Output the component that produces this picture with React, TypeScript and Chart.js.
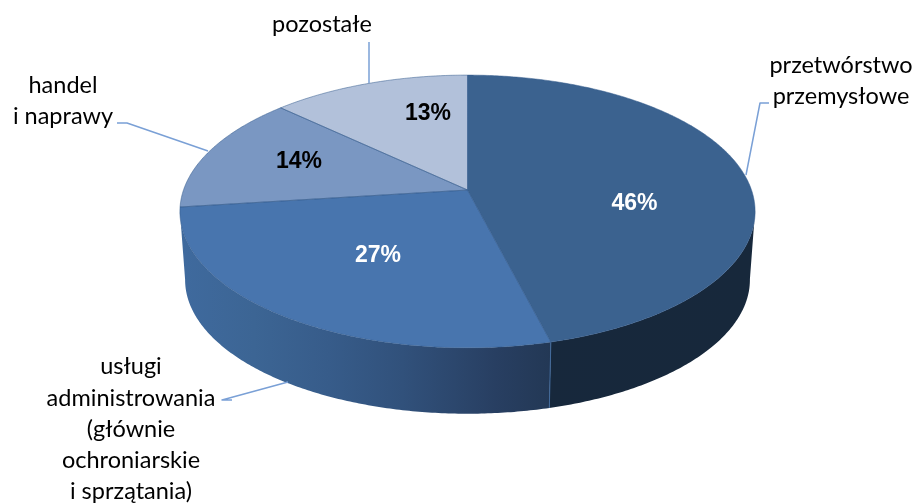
import React, { useEffect, useRef } from "react";
import { Chart, registerables } from "chart.js";

Chart.register(...registerables);

const categories = ["przetwórstwo przemysłowe", "usługi administrowania (głównie ochroniarskie i sprzątania)", "handel i naprawy", "pozostałe"];
const shares = [46, 27, 14, 13];

const topColors = ["#3b628f", "#4875ae", "#7a97c2", "#b2c1da"];
const sideStops: [number, string][][] = [
  [[0, "#1b2d47"], [0.15, "#17283c"], [1, "#17283b"]],
  [[0, "#3f6a9e"], [0.2, "#3c6594"], [0.4, "#375c8a"], [0.6, "#31517b"], [0.85, "#283f62"], [1, "#233855"]],
  [[0, "#3f6a9e"], [1, "#3f6a9e"]],
  [[0, "#3f6a9e"], [1, "#3f6a9e"]],
];
const percentLabelAt = [[634.5, 204], [378, 256], [299, 162], [428, 114]];
const percentColors = ["#ffffff", "#ffffff", "#000000", "#000000"];
const nameLabels: [string, number, number][] = [
  ["przetwórstwo", 841, 65],
  ["przemysłowe", 841, 96],
  ["usługi", 131, 366],
  ["administrowania", 131, 398],
  ["(głównie", 131, 429],
  ["ochroniarskie", 131, 460],
  ["i sprzątania)", 131, 491],
  ["handel", 63, 85],
  ["i naprawy", 63, 116],
  ["pozostałe", 322, 24],
];
const leaders = [
  [[769, 103], [760, 103], [746, 175]],
  [[232, 400], [222, 400], [288, 382]],
  [[117, 123], [127, 123], [208, 151]],
  [[369, 42], [369, 83]],
];

const CX = 467.5, CY = 190, BX = 284, AY = 133, K = -0.1575, DEPTH = 68.7, BOTTOM = 0.982;

function project(theta: number, r = 1, scale = 1, dy = 0): [number, number] {
  const u = Math.sin(theta) * r;
  const v = -Math.cos(theta) * r;
  const w = 1 + K * v;
  return [CX + (scale * BX * u) / w, CY + dy + (scale * AY * v) / w];
}

function arcPoints(a: number, b: number, scale = 1, dy = 0) {
  const n = Math.max(2, Math.ceil(Math.abs(b - a) / 0.01));
  const pts: [number, number][] = [];
  for (let i = 0; i <= n; i++) pts.push(project(a + ((b - a) * i) / n, 1, scale, dy));
  return pts;
}

const pie3d = {
  id: "pie3d",
  beforeDatasetsDraw(chart: any) {
    const ctx: CanvasRenderingContext2D = chart.ctx;
    const arcs = chart.getDatasetMeta(0).data;
    const angles = arcs.map((a: any) => [a.startAngle + Math.PI / 2, a.endAngle + Math.PI / 2]);
    ctx.save();
    ctx.lineJoin = "round";

    // side walls: only the front-facing quads, gathered into one path and filled once
    [3, 2, 0, 1].forEach((i) => {
      const [a, b] = angles[i];
      const upper = arcPoints(a, b);
      const lower = arcPoints(a, b, BOTTOM, DEPTH);
      const xs = upper.concat(lower).map((p) => p[0]);
      const g = ctx.createLinearGradient(Math.min(...xs), 0, Math.max(...xs), 0);
      sideStops[i].forEach(([o, c]) => g.addColorStop(o, c));
      ctx.beginPath();
      let any = false;
      for (let k = 0; k < upper.length - 1; k++) {
        if (upper[k + 1][0] >= upper[k][0]) continue;
        any = true;
        ctx.moveTo(upper[k][0], upper[k][1]);
        ctx.lineTo(upper[k + 1][0], upper[k + 1][1]);
        ctx.lineTo(lower[k + 1][0], lower[k + 1][1]);
        ctx.lineTo(lower[k][0], lower[k][1]);
        ctx.closePath();
      }
      if (any) {
        ctx.fillStyle = g;
        ctx.fill("nonzero");
      }
    });

    // seam between the two front walls
    const seamTop = project(angles[0][1]);
    const seamBottom = project(angles[0][1], 1, BOTTOM, DEPTH);
    ctx.beginPath();
    ctx.moveTo(seamTop[0], seamTop[1]);
    ctx.lineTo(seamBottom[0], seamBottom[1]);
    ctx.strokeStyle = "#416a9c";
    ctx.lineWidth = 1;
    ctx.stroke();

    // top faces
    angles.forEach(([a, b]: number[], i: number) => {
      ctx.beginPath();
      ctx.moveTo(CX, CY);
      arcPoints(a, b).forEach((p) => ctx.lineTo(p[0], p[1]));
      ctx.closePath();
      ctx.fillStyle = topColors[i];
      ctx.fill();
    });
    angles.forEach(([a, b]: number[]) => {
      ctx.beginPath();
      ctx.moveTo(CX, CY);
      arcPoints(a, b).forEach((p) => ctx.lineTo(p[0], p[1]));
      ctx.closePath();
      ctx.strokeStyle = "rgba(50,90,140,0.5)";
      ctx.lineWidth = 1;
      ctx.stroke();
    });

    // leader lines
    ctx.strokeStyle = "#7aa0d6";
    ctx.lineWidth = 1.5;
    leaders.forEach((line) => {
      ctx.beginPath();
      line.forEach(([x, y], k) => (k ? ctx.lineTo(x, y) : ctx.moveTo(x, y)));
      ctx.stroke();
    });

    // labels
    ctx.textAlign = "center";
    ctx.textBaseline = "middle";
    ctx.font = 'bold 23px "Liberation Sans"';
    shares.forEach((v, i) => {
      ctx.fillStyle = percentColors[i];
      ctx.fillText(`${v}%`, percentLabelAt[i][0], percentLabelAt[i][1]);
    });
    ctx.font = '23.5px "Lato"';
    ctx.fillStyle = "#000000";
    nameLabels.forEach(([t, x, y]) => ctx.fillText(t, x, y));
    ctx.restore();
    return false;
  },
};

export default function App() {
  const ref = useRef<HTMLCanvasElement>(null);
  useEffect(() => {
    const chart = new Chart(ref.current as HTMLCanvasElement, {
      type: "pie",
      data: {
        labels: categories,
        datasets: [{ data: shares, backgroundColor: topColors, borderWidth: 0 }],
      },
      options: {
        animation: false,
        responsive: false,
        plugins: { legend: { display: false }, tooltip: { enabled: false } },
      },
      plugins: [pie3d],
    } as any);
    return () => chart.destroy();
  }, []);
  return (
    <canvas
      ref={ref}
      width={914}
      height={503}
      style={{ position: "absolute", left: 0, top: 0, width: 914, height: 503, background: "#fff" }}
    />
  );
}
